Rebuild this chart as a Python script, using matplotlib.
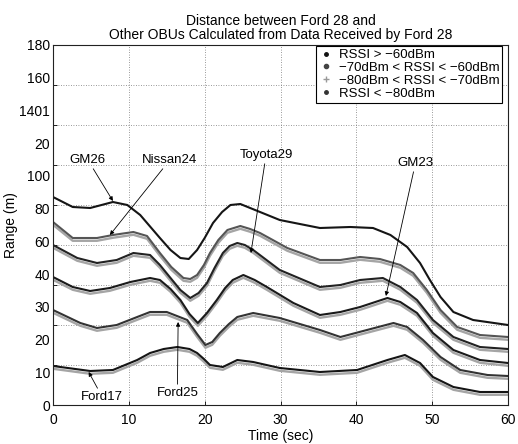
import matplotlib
matplotlib.use("Agg")
import matplotlib.pyplot as plt
import matplotlib.transforms as mtransforms
from matplotlib.lines import Line2D
import numpy as np

plt.rcParams["font.family"] = ["Liberation Sans", "DejaVu Sans"]

# ranges (m), one pair of arrays per track
t_gm26 = [0, 2.6, 4.9, 7.9, 9.8, 11.5, 14.1, 15.5, 16.8, 17.9, 19.0, 20.0, 21.1, 22.3, 23.4,
          24.7, 26.0, 29.9, 35.2, 39.2, 42.2, 44.5, 46.7, 48.4, 49.7, 51.1, 52.8, 55.4, 60]
r_gm26 = [104, 99, 98.5, 101.5, 100, 95, 83.5, 77.5, 73.5, 73, 77.5, 83.5, 91, 96.5, 100,
          100.5, 98.5, 92.5, 88.5, 89, 88.5, 85, 79, 71, 62.5, 54, 46.5, 42.5, 40]

t_nissan24 = [0, 2.6, 5.8, 7.9, 10.6, 12.4, 14.1, 15.6, 17.2, 18.1, 19.0, 19.9, 20.7, 21.8,
              23.0, 24.7, 26.0, 27.3, 30.9, 35.2, 37.9, 40.5, 43.1, 45.8, 47.5, 49.3, 51.1,
              53.3, 56.3, 60]
r_nissan24 = [91.5, 83.5, 83.5, 85, 86.5, 84.5, 76, 69, 63.5, 63, 65, 70, 76, 82.5,
              87.5, 89.5, 88, 86, 78.5, 72.5, 72.5, 74, 73, 70, 66, 57.5, 47.5,
              39, 35, 34]

t_toyota29 = [0, 3.2, 5.8, 8.4, 10.6, 12.8, 14.1, 15.5, 16.8, 18.1, 19.2, 20.3, 21.3, 22.4,
              23.3, 24.3, 25.3, 26.4, 29.9, 35.2, 37.9, 40.5, 43.5, 45.8, 48.0, 50.1, 52.8,
              56.3, 60]
r_toyota29 = [80, 73.5, 71, 72.5, 76, 75, 70, 63.5, 57.5, 53.5, 56, 61, 68.5, 76,
              79.5, 81, 80, 77.5, 67.5, 59, 60, 62.5, 63.5, 59, 52.5, 42.5, 34,
              29, 28]

t_gm23 = [0, 2.6, 4.9, 7.5, 10.2, 12.8, 14.1, 15.5, 16.8, 18.0, 19.1, 20.3, 21.6, 22.7,
          23.7, 25.1, 26.6, 28.2, 31.7, 35.2, 37.9, 40.5, 44.1, 45.8, 48.0, 50.1, 52.8,
          56.3, 60]
r_gm23 = [64, 59, 57, 58.5, 61.5, 63.5, 62.5, 58, 52.5, 45.5, 41, 46, 52.5, 58.5,
          62.5, 65, 62.5, 59, 51, 45, 46.5, 49, 53.5, 51.5, 46, 36, 27.5,
          22.5, 21]

t_ford25 = [0, 3.6, 5.8, 8.4, 11.1, 12.8, 15.0, 17.7, 19.0, 20.1, 21.0, 22.0, 23.2, 24.3,
            26.4, 29.9, 35.2, 37.9, 41.4, 44.9, 46.7, 48.8, 51.1, 53.7, 57.3, 60]
r_ford25 = [47.5, 41, 38.5, 40, 44, 46.5, 46.5, 42.5, 35.5, 30, 31.5, 36, 40.5, 44,
            46, 43.5, 37.5, 34, 37.5, 41, 39, 32.5, 24, 17.5, 15, 14.5]

t_ford17 = [0, 4.9, 7.9, 11.1, 12.8, 14.6, 16.4, 18.0, 19.0, 19.9, 20.7, 22.4, 24.3, 26.4,
            29.9, 35.2, 40.1, 44.1, 46.4, 48.4, 50.1, 52.8, 56.3, 60]
r_ford17 = [19.5, 17, 17.5, 22.5, 26, 28, 29, 28, 26, 23, 20, 19, 22.5, 21.5,
            18.5, 16.5, 17.5, 22.5, 25, 21, 14, 9, 6.5, 6.5]

y_tick_labels = ["0", "10", "20", "30", "40", "60", "80", "100", "20", "1401", "160", "180"]
legend_labels = ["RSSI > \u221260dBm", "\u221270dBm < RSSI < \u221260dBm",
                 "\u221280dBm < RSSI < \u221270dBm", "RSSI < \u221280dBm"]

fig = plt.figure(figsize=(5.18, 4.44), dpi=100)
ax = fig.add_axes([53 / 518, 39 / 444, 455 / 518, 360 / 444])

tracks = [
    (t_gm26, r_gm26, "#151515", False),
    (t_nissan24, r_nissan24, "#555555", True),
    (t_toyota29, r_toyota29, "#222222", True),
    (t_gm23, r_gm23, "#1a1a1a", True),
    (t_ford25, r_ford25, "#333333", True),
    (t_ford17, r_ford17, "#151515", True),
]
shifted = mtransforms.offset_copy(ax.transData, fig=fig, x=0, y=-2.0, units="points")
for t, r, color, doubled in tracks:
    if doubled:
        ax.plot(t, r, color="#a5a5a5", lw=1.7, transform=shifted, solid_capstyle="round")
    ax.plot(t, r, color=color, lw=1.5, solid_capstyle="round", solid_joinstyle="round")

arrow = dict(arrowstyle="-|>", color="black", lw=0.6, mutation_scale=6, shrinkA=0, shrinkB=0)
ax.annotate("GM26", xy=(7.9, 102), xytext=(4.6, 122.5), ha="center", va="center",
            fontsize=9.5, arrowprops=arrow)
ax.annotate("Nissan24", xy=(7.5, 85), xytext=(15.4, 122.5), ha="center", va="center",
            fontsize=9.5, arrowprops=arrow)
ax.annotate("Toyota29", xy=(26.1, 76), xytext=(28.1, 125), ha="center", va="center",
            fontsize=9.5, arrowprops=arrow)
ax.annotate("GM23", xy=(43.9, 54.5), xytext=(47.8, 121), ha="center", va="center",
            fontsize=9.5, arrowprops=arrow)
ax.annotate("Ford17", xy=(4.7, 16.5), xytext=(6.5, 4.0), ha="center", va="center",
            fontsize=9.5, arrowprops=arrow)
ax.annotate("Ford25", xy=(16.5, 41.5), xytext=(16.4, 6.0), ha="center", va="center",
            fontsize=9.5, arrowprops=arrow)

ax.set_xlim(0, 60)
ax.set_ylim(0, 180)
ax.set_xticks(np.arange(0, 61, 10))
ax.set_yticks(np.linspace(0, 180, 12))
ax.set_yticklabels(y_tick_labels)
ax.set_yticks(np.arange(0, 181, 20), minor=True)
ax.tick_params(axis="both", which="major", labelsize=10, direction="in", length=3, width=0.6)
ax.tick_params(axis="y", which="major", length=0, pad=2)
ax.tick_params(axis="y", which="minor", direction="in", length=3, width=0.6)
ax.tick_params(axis="x", which="major", pad=6)
ax.grid(which="major", axis="x", color="#777777", lw=0.6, linestyle=(0, (1, 2)))
ax.grid(which="minor", axis="y", color="#777777", lw=0.6, linestyle=(0, (1, 2)))
for spine in ax.spines.values():
    spine.set_linewidth(0.8)
    spine.set_color("#222222")
    spine.set_linestyle((0, (3, 1)))

ax.set_xlabel("Time (sec)", fontsize=10)
ax.xaxis.set_label_coords(0.5, -0.068)
ax.set_ylabel("Range (m)", fontsize=10)
ax.yaxis.set_label_coords(-0.078, 0.5)
ax.set_title("Distance between Ford 28 and\nOther OBUs Calculated from Data Received by Ford 28",
             fontsize=10, linespacing=1.0, pad=4)

handles = [
    Line2D([], [], ls="none", marker=".", color="#111111", markersize=5),
    Line2D([], [], ls="none", marker=".", color="#444444", markersize=6),
    Line2D([], [], ls="none", marker="+", color="#999999", markersize=4),
    Line2D([], [], ls="none", marker=".", color="#333333", markersize=5),
]
leg = ax.legend(handles, legend_labels, loc="upper right", bbox_to_anchor=(0.99, 1.0),
                fontsize=9.5, frameon=True, fancybox=False, edgecolor="black",
                handlelength=1.0, handletextpad=0.5, borderpad=0.2, labelspacing=0.05,
                borderaxespad=0.1, framealpha=1)
leg.get_frame().set_linewidth(0.8)

fig.savefig("out.png", dpi=100)
